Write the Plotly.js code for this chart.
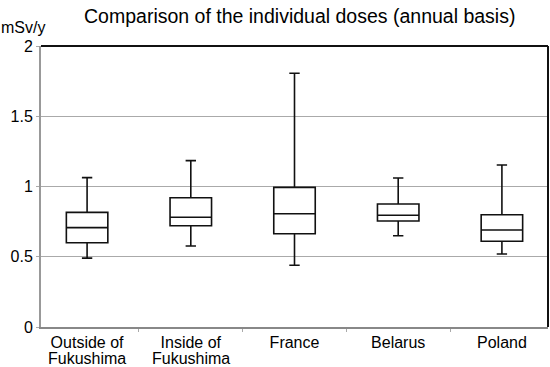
<!DOCTYPE html>
<html><head><meta charset="utf-8">
<script src="https://cdn.plot.ly/plotly-3.0.1.min.js"></script>
<style>html,body{margin:0;padding:0;background:#fff}#c{width:550px;height:367px}</style>
</head><body><div id="c"></div>
<script>
const categories = ["Outside of<br>Fukushima", "Inside of<br>Fukushima", "France", "Belarus", "Poland"];
const lowerWhisker = [0.49, 0.577, 0.439, 0.650, 0.52];
const q1Values     = [0.60, 0.721, 0.664, 0.754, 0.61];
const medianValues = [0.707, 0.781, 0.806, 0.795, 0.690];
const q3Values     = [0.816, 0.92, 0.994, 0.875, 0.799];
const upperWhisker = [1.063, 1.184, 1.806, 1.060, 1.153];
const yTicks = [0, 0.5, 1, 1.5, 2];
const yTickText = ["0", "0.5", "1", "1.5", "2"];

const font = "Liberation Sans, Arial, Helvetica, sans-serif";
// split labels: first line as tick label, second line as tight annotation (reference has tight line spacing)
const firstLines = categories.map(c => c.split("<br>")[0]);
const secondLineAnns = [];
categories.forEach(c => {
  const parts = c.split("<br>");
  if (parts.length > 1) {
    secondLineAnns.push({text: parts[1], x: c, xref: "x", yref: "paper", y: -0.078, xanchor: "center", yanchor: "top",
      borderpad: 0, showarrow: false, font: {size: 16, family: font, color: "#000"}});
  }
});

const trace = {
  type: "box",
  x: categories,
  q1: q1Values,
  median: medianValues,
  q3: q3Values,
  lowerfence: lowerWhisker,
  upperfence: upperWhisker,
  width: 0.4,
  whiskerwidth: 0.25,
  fillcolor: "#ffffff",
  line: {color: "#111111", width: 1.6},
  hoverinfo: "skip",
  showlegend: false
};
const layout = {
  width: 550, height: 367,
  margin: {l: 41, r: 2, t: 46, b: 40},
  paper_bgcolor: "#fff", plot_bgcolor: "#fff",
  font: {family: font, color: "#000"},
  title: {text: "Comparison of the individual doses (annual basis)", x: 0.545, xanchor: "center", y: 0.955, yanchor: "middle", font: {size: 19.5, family: font, color: "#000"}},
  xaxis: {
    type: "category", tickson: "boundaries", ticks: "outside", ticklen: 3, tickcolor: "#aaa",
    tickmode: "array", tickvals: categories, ticktext: firstLines,
    showline: true, linecolor: "#888", linewidth: 2, showgrid: false, zeroline: false,
    tickfont: {size: 16, family: font, color: "#000"}, fixedrange: true
  },
  yaxis: {
    range: [0, 2], tickvals: yTicks, ticktext: yTickText, ticks: "outside", ticklen: 3, tickcolor: "#aaa",
    showline: true, linecolor: "#999", linewidth: 2, showgrid: true, gridcolor: "#aaa", gridwidth: 1.2,
    zeroline: false, tickfont: {size: 16, family: font, color: "#000"}, fixedrange: true
  },
  shapes: [
    {type: "line", xref: "paper", yref: "paper", x0: 0, x1: 1, y0: 1, y1: 1, line: {color: "#111", width: 2}},
    {type: "line", xref: "paper", yref: "paper", x0: 1, x1: 1, y0: 0, y1: 1, line: {color: "#111", width: 2}}
  ],
  annotations: [
    {text: "mSv/y", xref: "paper", yref: "paper", x: -0.081, y: 1.066, xanchor: "left", yanchor: "middle", borderpad: 0, showarrow: false, font: {size: 16, family: font, color: "#000"}}
  ].concat(secondLineAnns)
};
Plotly.newPlot("c", [trace], layout, {displayModeBar: false, staticPlot: true});
</script></body></html>
